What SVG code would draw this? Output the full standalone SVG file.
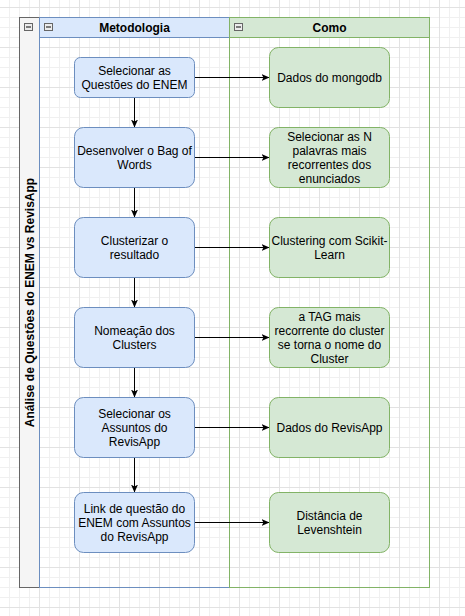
<svg xmlns="http://www.w3.org/2000/svg" width="465" height="616" viewBox="0 0 465 616">
<style>
text{font-family:"Liberation Sans",Arial,sans-serif;font-size:12px;fill:#000;text-anchor:middle}
.b{font-weight:bold}
.blue{fill:#dae8fc;stroke:#6c8ebf;stroke-width:1}
.green{fill:#d5e8d4;stroke:#82b366;stroke-width:1}
.edge{fill:none;stroke:#000;stroke-width:1;marker-end:url(#arr)}
.ico{fill:#ececec;stroke:#666;stroke-width:1}
.icol{stroke:#333;stroke-width:1.2}
</style>
<defs>
<pattern id="gmin" patternUnits="userSpaceOnUse" x="9" y="7" width="10" height="10">
<path d="M0.5 0V10M0 0.5H10" stroke="#f0f0f0" stroke-width="1" fill="none"/>
</pattern>
<pattern id="gmaj" patternUnits="userSpaceOnUse" x="-1" y="7" width="40" height="40">
<path d="M0.5 0V40M0 0.5H40" stroke="#e2e2e2" stroke-width="1" fill="none"/>
</pattern>
<marker id="arr" viewBox="0 0 8 8" refX="8" refY="4" markerWidth="8" markerHeight="8" orient="auto" markerUnits="userSpaceOnUse">
<path d="M0,0.5 L8,4 L0,7.5 L2,4 Z" fill="#000"/>
</marker>
</defs>
<rect width="465" height="616" fill="#fff"/>
<rect width="465" height="616" fill="url(#gmin)"/>
<rect width="465" height="616" fill="url(#gmaj)"/>

<g id="pool">
<rect x="19.5" y="17.5" width="410" height="570" fill="none" stroke="#666"/>
<rect x="19.5" y="17.5" width="20" height="570" fill="#f5f5f5" stroke="#666"/>
<text class="b" transform="translate(30,302.5) rotate(-90)" y="4.2">Análise de Questões do ENEM vs RevisApp</text>
<rect class="ico" x="24.5" y="23.5" width="8" height="7"/><path class="icol" d="M26 27H31"/>
</g>
<g id="lane-metodologia">
<rect x="39.5" y="17.5" width="190" height="570" fill="none" stroke="#6c8ebf"/>
<rect class="blue" x="39.5" y="17.5" width="190" height="20"/>
<text class="b" x="134.5" y="31.7">Metodologia</text>
<rect class="ico" x="44.5" y="23.5" width="8" height="7"/><path class="icol" d="M46 27H51"/>
</g>
<g id="lane-como">
<rect x="229.5" y="17.5" width="200" height="570" fill="none" stroke="#82b366"/>
<rect class="green" x="229.5" y="17.5" width="200" height="20"/>
<text class="b" x="329.5" y="31.7">Como</text>
<rect class="ico" x="234.5" y="23.5" width="8" height="7"/><path class="icol" d="M236 27H241"/>
</g>

<g id="connectors">
<path class="edge" d="M134.5 97.5V127.5"/>
<path class="edge" d="M134.5 187.5V217.5"/>
<path class="edge" d="M134.5 277.5V307.5"/>
<path class="edge" d="M134.5 367.5V397.5"/>
<path class="edge" d="M134.5 457.5V492.5"/>
<path class="edge" d="M194.5 77.5H269.5"/>
<path class="edge" d="M194.5 157.5H269.5"/>
<path class="edge" d="M194.5 247.5H269.5"/>
<path class="edge" d="M194.5 337.5H269.5"/>
<path class="edge" d="M194.5 427.5H269.5"/>
<path class="edge" d="M194.5 522.5H269.5"/>
</g>

<g id="n1"><rect class="blue" x="74.5" y="57.5" width="120" height="40" rx="6"/>
<text x="134.5" y="74.7">Selecionar as</text><text x="134.5" y="88.7">Questões do ENEM</text></g>
<g id="n2"><rect class="blue" x="74.5" y="127.5" width="120" height="60" rx="9"/>
<text x="134.5" y="154.7">Desenvolver o Bag of</text><text x="134.5" y="168.7">Words</text></g>
<g id="n3"><rect class="blue" x="74.5" y="217.5" width="120" height="60" rx="9"/>
<text x="134.5" y="244.7">Clusterizar o</text><text x="134.5" y="258.7">resultado</text></g>
<g id="n4"><rect class="blue" x="74.5" y="307.5" width="120" height="60" rx="9"/>
<text x="134.5" y="334.7">Nomeação dos</text><text x="134.5" y="348.7">Clusters</text></g>
<g id="n5"><rect class="blue" x="74.5" y="397.5" width="120" height="60" rx="9"/>
<text x="134.5" y="417.7">Selecionar os</text><text x="134.5" y="431.7">Assuntos do</text><text x="134.5" y="445.7">RevisApp</text></g>
<g id="n6"><rect class="blue" x="74.5" y="492.5" width="120" height="60" rx="9"/>
<text x="134.5" y="512.7">Link de questão do</text><text x="134.5" y="526.7">ENEM com Assuntos</text><text x="134.5" y="540.7">do RevisApp</text></g>

<g id="g1"><rect class="green" x="269.5" y="47.5" width="120" height="60" rx="9"/>
<text x="329.5" y="81.7">Dados do mongodb</text></g>
<g id="g2"><rect class="green" x="269.5" y="127.5" width="120" height="60" rx="9"/>
<text x="329.5" y="140.7">Selecionar as N</text><text x="329.5" y="154.7">palavras mais</text><text x="329.5" y="168.7">recorrentes dos</text><text x="329.5" y="182.7">enunciados</text></g>
<g id="g3"><rect class="green" x="269.5" y="217.5" width="120" height="60" rx="9"/>
<text x="329.5" y="244.7">Clustering com Scikit-</text><text x="329.5" y="258.7">Learn</text></g>
<g id="g4"><rect class="green" x="269.5" y="307.5" width="120" height="60" rx="9"/>
<text x="329.5" y="320.7">a TAG mais</text><text x="329.5" y="334.7">recorrente do cluster</text><text x="329.5" y="348.7">se torna o nome do</text><text x="329.5" y="362.7">Cluster</text></g>
<g id="g5"><rect class="green" x="269.5" y="397.5" width="120" height="60" rx="9"/>
<text x="329.5" y="431.7">Dados do RevisApp</text></g>
<g id="g6"><rect class="green" x="269.5" y="492.5" width="120" height="60" rx="9"/>
<text x="329.5" y="519.7">Distância de</text><text x="329.5" y="533.7">Levenshtein</text></g>
</svg>
